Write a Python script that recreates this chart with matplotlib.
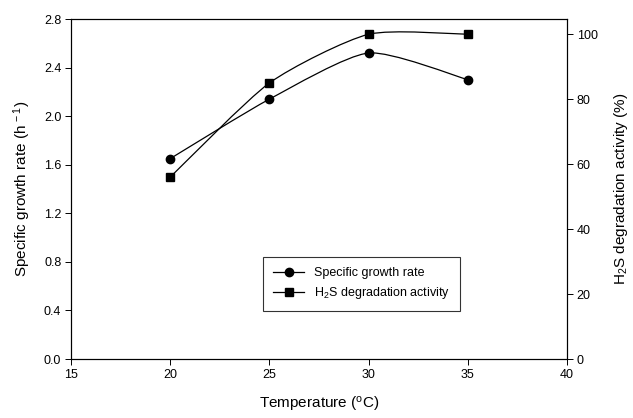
import numpy as np
import matplotlib
matplotlib.use('Agg')
import matplotlib.pyplot as plt
from matplotlib.path import Path
from matplotlib.patches import PathPatch
from matplotlib.lines import Line2D

plt.rcParams['font.family'] = ['Liberation Sans', 'DejaVu Sans']

# data
temperature = [20, 25, 30, 35]
growth_rate = [1.65, 2.14, 2.52, 2.30]
h2s_activity = [56, 85, 100, 100]


def smooth_path(x, y, k=9.0):
    # gentle bezier curve through the points (like the original's spline)
    verts = [(x[0], y[0])]
    codes = [Path.MOVETO]
    n = len(x)
    for i in range(n - 1):
        x0, y0 = (x[i - 1], y[i - 1]) if i > 0 else (x[i], y[i])
        x1, y1 = x[i], y[i]
        x2, y2 = x[i + 1], y[i + 1]
        x3, y3 = (x[i + 2], y[i + 2]) if i + 2 < n else (x[i + 1], y[i + 1])
        c1 = (x1 + (x2 - x0) / k, y1 + (y2 - y0) / k)
        c2 = (x2 - (x3 - x1) / k, y2 - (y3 - y1) / k)
        verts += [c1, c2, (x2, y2)]
        codes += [Path.CURVE4] * 3
    return Path(verts, codes)


fig = plt.figure(figsize=(6.33, 4.18), dpi=100)
ax1 = fig.add_axes([71 / 633, 1 - 359 / 418, (567 - 71) / 633, (359 - 19) / 418])
ax2 = ax1.twinx()

ax1.add_patch(PathPatch(smooth_path(temperature, growth_rate), fill=False, lw=0.9, ec='black'))
ax1.plot(temperature, growth_rate, 'o', color='black', ms=6, ls='None')
ax2.add_patch(PathPatch(smooth_path(temperature, h2s_activity), fill=False, lw=0.9, ec='black'))
ax2.plot(temperature, h2s_activity, 's', color='black', ms=5.5, ls='None')

ax1.set_xlim(15, 40)
ax1.set_ylim(0, 2.8)
yt = np.arange(0, 2.81, 0.4)
ax1.set_yticks(yt)
ax1.set_yticklabels([f'{v:.1f}' for v in yt])
ax1.set_xticks([15, 20, 25, 30, 35, 40])
ax2.set_ylim(0, 104.7)
ax2.set_yticks([0, 20, 40, 60, 80, 100])

for a in (ax1, ax2):
    a.tick_params(direction='out', length=4, width=0.7, labelsize=9, pad=3)
    for s in a.spines.values():
        s.set_linewidth(0.8)

ax1.set_xlabel('Temperature ($\\mathregular{^{o}}$C)', fontsize=11, labelpad=10)
ax1.set_ylabel('Specific growth rate (h$\\mathregular{^{\\,-1}}$)', fontsize=11, labelpad=8)
ax2.set_ylabel('H$\\mathregular{_2}$S degradation activity (%)', fontsize=11, labelpad=10)

handles = [Line2D([], [], color='black', lw=0.9, marker='o', ms=6),
           Line2D([], [], color='black', lw=0.9, marker='s', ms=5.5)]
leg = ax1.legend(handles, ['Specific growth rate', 'H$\\mathregular{_2}$S degradation activity'],
                 loc='upper left', bbox_to_anchor=((263 - 71) / 496, 1 - (257 - 19) / 340),
                 borderaxespad=0, fontsize=9, frameon=True, fancybox=False, edgecolor='black',
                 borderpad=0.8, handlelength=2.5, labelspacing=0.5)
leg.get_frame().set_linewidth(0.8)

fig.savefig('out.png', dpi=100)
